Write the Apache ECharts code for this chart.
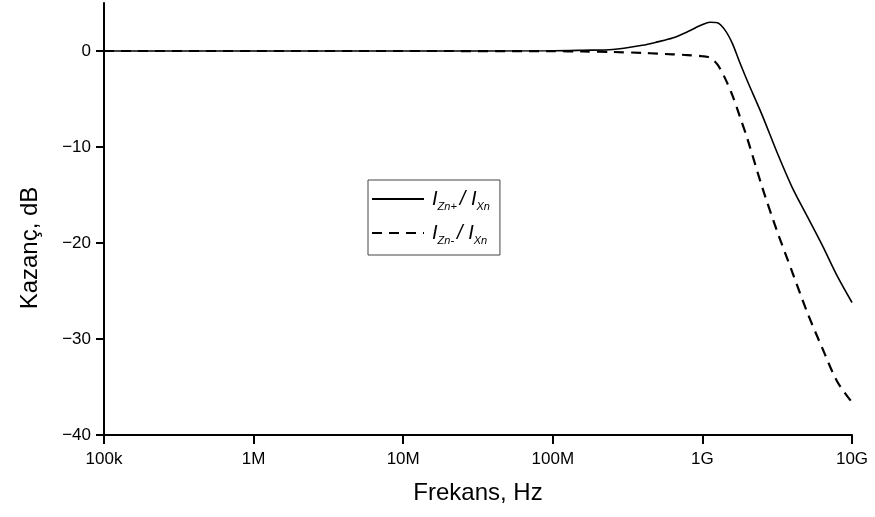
<!DOCTYPE html>
<html>
<head>
<meta charset="utf-8">
<script src="https://cdn.jsdelivr.net/npm/echarts@6/dist/echarts.min.js"></script>
<style>html,body{margin:0;padding:0;background:#fff}#c{width:875px;height:517px}</style>
</head>
<body>
<div id="c"></div>
<script>
const freqs = [1e5, 1e6, 1e7, 1e8, 1.585e8, 2.512e8, 3.981e8, 5.012e8, 6.31e8, 7.943e8, 1e9, 1.122e9, 1.259e9, 1.413e9, 1.585e9, 1.778e9, 1.995e9, 2.512e9, 3.162e9, 3.981e9, 5.012e9, 6.31e9, 7.943e9, 1e10];
const gainZnPlus = [0, 0, 0, 0.03, 0.08, 0.15, 0.6, 0.95, 1.35, 2.0, 2.75, 3.0, 2.95, 2.2, 0.8, -1.2, -3.1, -6.7, -10.6, -14.2, -17.2, -20.2, -23.4, -26.2];
const gainZnMinus = [0, 0, 0, -0.02, -0.05, -0.1, -0.2, -0.27, -0.35, -0.42, -0.55, -0.7, -1.4, -2.8, -4.6, -6.8, -9.1, -14.2, -18.8, -23.0, -27.2, -30.9, -34.4, -36.6];
const xTickValues = [1e5, 1e6, 1e7, 1e8, 1e9, 1e10];
const xTickLabels = ['100k', '1M', '10M', '100M', '1G', '10G'];
const yTicks = [-40, -30, -20, -10, 0];
const seriesNames = ['IZn+/IXn', 'IZn-/IXn'];
const legendRich = {
  'IZn+/IXn': '{i|I}{s|Zn+}{i|/ I}{s|Xn}',
  'IZn-/IXn': '{i|I}{s|Zn-}{i|/ I}{s|Xn}'
};

const font = 'Arial, "Liberation Sans", sans-serif';
const chart = echarts.init(document.getElementById('c'));
const fmtX = v => {
  for (let i = 0; i < xTickValues.length; i++) {
    if (Math.abs(v - xTickValues[i]) / xTickValues[i] < 1e-6) return xTickLabels[i];
  }
  return '';
};
chart.setOption({
  backgroundColor: '#fff',
  animation: false,
  grid: { left: 104, right: 23, top: 3, bottom: 82, containLabel: false, outerBoundsMode: 'none' },
  legend: {
    orient: 'vertical',
    left: 368, top: 180,
    padding: [9, 10, 9, 3],
    itemGap: 11,
    itemWidth: 52, itemHeight: 14,
    borderColor: '#444', borderWidth: 1,
    backgroundColor: '#fff',
    itemStyle: { opacity: 0 },
    formatter: n => legendRich[n],
    textStyle: {
      color: '#000', fontFamily: font,
      rich: {
        i: { fontStyle: 'italic', fontSize: 20, lineHeight: 26, fontFamily: font, color: '#000', padding: [0, 0, 0, 3] },
        s: { fontStyle: 'italic', fontSize: 11, lineHeight: 8, verticalAlign: 'bottom', fontFamily: font, color: '#000' }
      }
    },
    data: seriesNames
  },
  xAxis: {
    type: 'log', logBase: 10, min: 1e5, max: 1e10,
    name: 'Frekans, Hz', nameLocation: 'middle', nameGap: 46,
    nameTextStyle: { fontSize: 24, fontFamily: font, color: '#000' },
    axisLine: { onZero: false, lineStyle: { color: '#000', width: 2 } },
    axisTick: { show: true, length: 9, lineStyle: { color: '#000', width: 2 } },
    axisLabel: { fontSize: 17, fontFamily: font, color: '#000', margin: 16, formatter: fmtX },
    minorTick: { show: false },
    splitLine: { show: false }
  },
  yAxis: {
    type: 'value', min: -40, max: 5, interval: 10,
    name: 'Kazanç, dB', nameLocation: 'middle', nameGap: 62,
    nameTextStyle: { fontSize: 24, fontFamily: font, color: '#000', padding: [0, 58, 0, 0] },
    axisLine: { show: true, onZero: false, lineStyle: { color: '#000', width: 2 } },
    axisTick: { show: true, length: 8, customValues: yTicks, lineStyle: { color: '#000', width: 2 } },
    axisLabel: { fontSize: 17, fontFamily: font, color: '#000', margin: 13, customValues: yTicks,
      formatter: v => v < 0 ? '\u2212' + (-v) : String(v) },
    splitLine: { show: false }
  },
  series: [
    {
      name: seriesNames[0], type: 'line', symbol: 'none', smooth: 0.3,
      lineStyle: { color: '#000', width: 1.6, type: 'solid' },
      itemStyle: { color: '#000' },
      data: freqs.map((f, i) => [f, gainZnPlus[i]])
    },
    {
      name: seriesNames[1], type: 'line', symbol: 'none', smooth: 0.3,
      lineStyle: { color: '#000', width: 2.2, type: [10, 7] },
      itemStyle: { color: '#000' },
      data: freqs.map((f, i) => [f, gainZnMinus[i]])
    }
  ]
});
</script>
</body>
</html>
